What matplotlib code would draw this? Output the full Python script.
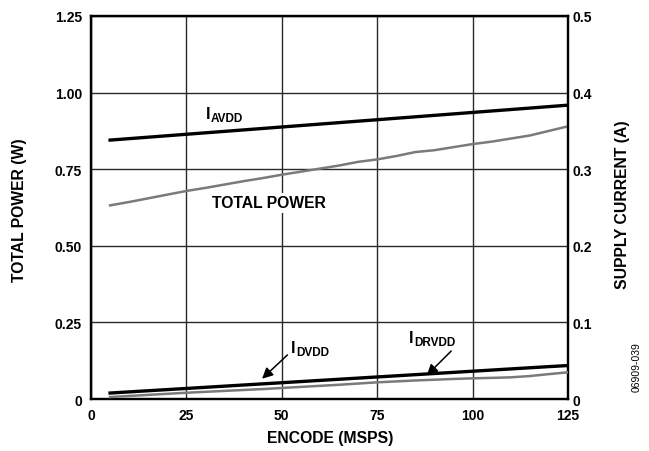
import matplotlib
matplotlib.use("Agg")
import matplotlib.pyplot as plt

plt.rcParams['font.family'] = ['Liberation Sans', 'DejaVu Sans']
plt.rcParams['font.weight'] = 'bold'

# Datos
encode = [5, 10, 15, 20, 25, 30, 35, 40, 45, 50, 55, 60, 65,
          70, 75, 80, 85, 90, 95, 100, 105, 110, 115, 120, 125]
total_power = [0.632, 0.643, 0.655, 0.667, 0.679, 0.689, 0.700, 0.711, 0.721,
               0.732, 0.742, 0.752, 0.762, 0.774, 0.782, 0.793, 0.806, 0.812,
               0.822, 0.832, 0.840, 0.850, 0.860, 0.875, 0.890]
i_avdd = [0.3380, 0.3399, 0.3418, 0.3437, 0.3456, 0.3475, 0.3494, 0.3513,
          0.3532, 0.3551, 0.3570, 0.3589, 0.3608, 0.3627, 0.3646, 0.3665,
          0.3684, 0.3703, 0.3722, 0.3741, 0.3760, 0.3779, 0.3798, 0.3817, 0.3836]
i_dvdd = [0.0078, 0.0093, 0.0108, 0.0123, 0.0138, 0.0153, 0.0168, 0.0183,
          0.0198, 0.0213, 0.0228, 0.0243, 0.0258, 0.0273, 0.0288, 0.0303,
          0.0318, 0.0333, 0.0348, 0.0363, 0.0378, 0.0393, 0.0408, 0.0423, 0.0437]
i_drvdd = [0.0026, 0.0040, 0.0054, 0.0068, 0.0082, 0.0094, 0.0106, 0.0118,
           0.0130, 0.0144, 0.0158, 0.0172, 0.0186, 0.0202, 0.0218, 0.0230,
           0.0242, 0.0252, 0.0262, 0.0270, 0.0276, 0.0283, 0.0300, 0.0325, 0.0349]

xticks = [0, 25, 50, 75, 100, 125]
yticks_left = [0, 0.25, 0.50, 0.75, 1.00, 1.25]
yticks_right = [0, 0.1, 0.2, 0.3, 0.4, 0.5]

fig = plt.figure(figsize=(6.49, 4.52), dpi=100)
ax = fig.add_axes([0.1402, 0.1150, 0.7350, 0.8474])
ax2 = ax.twinx()

ax.set_xlim(0, 125)
ax.set_ylim(0, 1.25)
ax2.set_ylim(0, 0.5)

ax.set_xticks(xticks)
ax.set_yticks(yticks_left)
ax.set_yticklabels(['0', '0.25', '0.50', '0.75', '1.00', '1.25'])
ax2.set_yticks(yticks_right)
ax2.set_yticklabels(['0', '0.1', '0.2', '0.3', '0.4', '0.5'])

ax.grid(True, color='#2a2a2a', linewidth=1.0)
ax.set_axisbelow(True)
ax.tick_params(axis='y', length=0, labelsize=10, pad=6.5)
ax.tick_params(axis='x', length=0, labelsize=10, pad=6.5)
ax2.tick_params(length=0, labelsize=10, pad=3.5)
for a in (ax, ax2):
    for s in a.spines.values():
        s.set_linewidth(1.6)

# Curvas
ax.plot(encode, total_power, color='#7a7a7a', lw=1.8, zorder=3)
ax2.plot(encode, i_avdd, color='black', lw=2.4, zorder=4)
ax2.plot(encode, i_drvdd, color='#7a7a7a', lw=1.8, zorder=3)
ax2.plot(encode, i_dvdd, color='black', lw=2.4, zorder=4)


def etiqueta(x, y, principal, sub):
    # "I" grande con subíndice más pequeño
    ax.text(x, y, principal, fontsize=11.5, ha='left', va='baseline')
    ax.annotate(sub, xy=(x, y), xytext=(3.6, -2.2), textcoords='offset points',
                fontsize=8.5, ha='left', va='baseline')


etiqueta(30.1, 0.917, 'I', 'AVDD')
etiqueta(52.4, 0.154, 'I', 'DVDD')
etiqueta(83.4, 0.185, 'I', 'DRVDD')

ax.text(46.6, 0.64, 'TOTAL POWER', fontsize=11.3, ha='center', va='center',
        bbox=dict(facecolor='white', edgecolor='none', pad=2))
ax.annotate('', xy=(44.3, 0.06), xytext=(52.0, 0.15),
            arrowprops=dict(arrowstyle='-|>', color='black', lw=1.1, mutation_scale=16))
ax.annotate('', xy=(87.5, 0.071), xytext=(94.9, 0.163),
            arrowprops=dict(arrowstyle='-|>', color='black', lw=1.1, mutation_scale=16))

fig.text(330 / 649, 1 - 439 / 452, 'ENCODE (MSPS)', fontsize=11.3, ha='center', va='center')
fig.text(20 / 649, 1 - 210 / 452, 'TOTAL POWER (W)', fontsize=11.3, ha='center', va='center',
         rotation=90)
fig.text(622 / 649, 1 - 205 / 452, 'SUPPLY CURRENT (A)', fontsize=11.3, ha='center',
         va='center', rotation=90)
fig.text(637 / 649, 1 - 367 / 452, '06909-039', fontsize=7.5, fontweight='normal',
         ha='center', va='center', rotation=90)

fig.savefig('out.png', dpi=100)
